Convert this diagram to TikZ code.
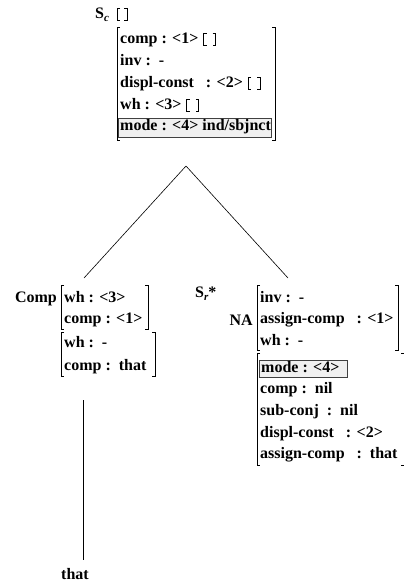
\documentclass[tikz,border=0pt]{standalone}
\usepackage{fontspec}
\setmainfont{Liberation Serif}
\usetikzlibrary{calc}
\tikzset{
  fs/.style={anchor=base west, inner sep=0pt, font=\fontsize{16}{19}\selectfont\bfseries},
  lbl/.style={inner sep=0pt, font=\fontsize{16}{19}\selectfont\bfseries},
  brk/.style={line width=0.8pt},
  modebox/.style={draw=black!75, fill=black!6, line width=0.8pt},
  branch/.style={line width=0.6pt}
}
\newcommand\fsbr[4]{%
  \draw[brk] (#1+3,#2) -- (#1,#2) -- (#1,#4) -- (#1+3,#4);
  \draw[brk] (#3-3,#2) -- (#3,#2) -- (#3,#4) -- (#3-3,#4);}
\newcommand\ebr[1]{%
  \draw[brk] ($(#1.base east)+(8,-10)$) -- ++(-3,0) -- ++(0,12) -- ++(3,0);
  \draw[brk] ($(#1.base east)+(14,-10)$) -- ++(3,0) -- ++(0,12) -- ++(-3,0);}
\begin{document}
\begin{tikzpicture}[x=1pt,y=-1pt]
\useasboundingbox (0,0) rectangle (404,584);
% top: S_c
\node[fs] (sc) at (95,18) {S\raisebox{-3pt}{\fontsize{11}{11}\selectfont\itshape c}};
\coordinate (scb) at (105,18);
\draw[brk] (120,8) -- (117,8) -- (117,20) -- (120,20);
\draw[brk] (124,8) -- (127,8) -- (127,20) -- (124,20);
\fsbr{117}{27}{275}{140}
\draw[modebox] (118,118) rectangle (271,137);
\node[fs] (c1) at (120,43) {comp : <1>};
\node[fs] (c2) at (120,65) {inv :~~-};
\node[fs] (c3) at (120,87) {displ-const~~~: <2>};
\node[fs] (c4) at (120,109) {wh : <3>};
\node[fs] (c5) at (120,130) {mode : <4> ind/sbjnct};
\ebr{c1}
\ebr{c3}
\ebr{c4}
% branches
\coordinate (apex) at (186,166);
\coordinate (lt) at (84,278);
\coordinate (rt) at (288,278);
\draw[branch] (apex) -- (lt);
\draw[branch] (apex) -- (rt);
% Comp
\node[lbl, anchor=base east] (comp) at (57,302) {Comp};
\fsbr{61}{285}{148}{329}
\fsbr{61}{332}{155}{376}
\node[fs] (k1) at (64,302) {wh : <3>};
\node[fs] (k2) at (64,323) {comp : <1>};
\node[fs] (k3) at (64,347) {wh :~~-};
\node[fs] (k4) at (64,370) {comp :~~that};
\coordinate (stemtop) at (83,400);
\node[lbl, anchor=base] (that) at (75,579) {that};
\draw[branch] (stemtop) -- (83,560);
% S_r*
\node[fs] (sr) at (195,297) {S\raisebox{-3pt}{\fontsize{11}{11}\selectfont\itshape r}*};
\node[lbl, anchor=base east] (na) at (253,325) {NA};
\fsbr{257}{285}{398}{350}
\fsbr{257}{353}{404}{465}
\draw[modebox] (259,360) rectangle (347,377);
\node[fs] (r1) at (260,302) {inv :~~-};
\node[fs] (r2) at (260,323) {assign-comp~~~: <1>};
\node[fs] (r3) at (260,345) {wh :~~-};
\node[fs] (r4) at (261,372) {mode : <4>};
\node[fs] (r5) at (260,393) {comp :~~nil};
\node[fs] (r6) at (260,415) {sub-conj~~:~~nil};
\node[fs] (r7) at (260,437) {displ-const~~~: <2>};
\node[fs] (r8) at (260,458) {assign-comp~~~:~~that};
\end{tikzpicture}
\end{document}
